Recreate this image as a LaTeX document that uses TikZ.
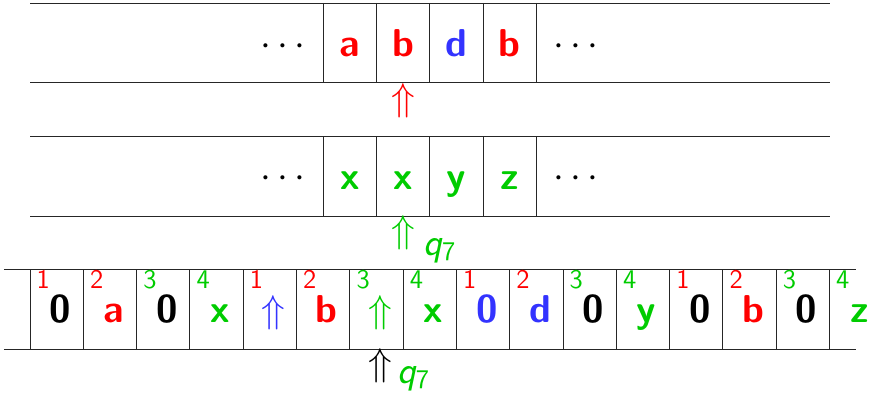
\documentclass[tikz,border=0pt]{standalone}
\definecolor{symred}{RGB}{255,0,0}
\definecolor{symgreen}{RGB}{0,204,0}
\definecolor{symblue}{RGB}{51,51,255}

\begin{document}
\begin{tikzpicture}[
    tape/.style={line width=0.5pt, black!85},
    letter/.style={font=\sffamily\bfseries\huge, anchor=base, inner sep=0pt},
    digit/.style={font=\sffamily\bfseries\huge, anchor=base, inner sep=0pt},
    arrowsym/.style={font=\huge, anchor=base, inner sep=0pt},
    index/.style={font=\sffamily\Large, anchor=base, inner sep=0pt},
    dots/.style={font=\huge, inner sep=0pt},
    head/.style={font=\huge, inner sep=0pt},
    state/.style={font=\sffamily\huge, anchor=base west, inner sep=0pt, symgreen}
]
    \useasboundingbox (-0.563,0.056) rectangle (15.76,-7.41);

    % Tape 1
    \draw[tape] (0,0) -- (15,0) (0,-1.5) -- (15,-1.5);
    \foreach \x in {5.5,6.5,...,9.5} \draw[tape] (\x,0) -- (\x,-1.5);
    \node[dots] (dotsAL) at (4.75,-0.83) {$\cdots$};
    \node[dots] (dotsAR) at (10.24,-0.83) {$\cdots$};
    \node[letter, symred] (a1) at (6,-1) {a};
    \node[letter, symred] (a2) at (7,-1) {b};
    \node[letter, symblue] (a3) at (8,-1) {d};
    \node[letter, symred] (a4) at (9,-1) {b};
    \node[head, symred] (headA) at (7,-1.84) {$\Uparrow$};

    % Tape 2
    \draw[tape] (0,-2.5) -- (15,-2.5) (0,-4) -- (15,-4);
    \foreach \x in {5.5,6.5,...,9.5} \draw[tape] (\x,-2.5) -- (\x,-4);
    \node[dots] (dotsBL) at (4.75,-3.3) {$\cdots$};
    \node[dots] (dotsBR) at (10.24,-3.3) {$\cdots$};
    \node[letter, symgreen] (b1) at (6,-3.5) {x};
    \node[letter, symgreen] (b2) at (7,-3.5) {x};
    \node[letter, symgreen] (b3) at (8,-3.5) {y};
    \node[letter, symgreen] (b4) at (9,-3.5) {z};
    \node[head, symgreen] (headB) at (7,-4.32) {$\Uparrow$};
    \node[state] (stateB) at (7.37,-4.73) {\slshape q\textsubscript{\upshape 7}};

    % Single tape with tracks
    \draw[tape] (-0.49,-5) -- (15.5,-5) (-0.49,-6.5) -- (15.5,-6.5);
    \foreach \x in {0,...,15} \draw[tape] (\x,-5) -- (\x,-6.5);
    \foreach \k/\i/\ic/\st/\sc/\s in {
        0/1/symred/digit/black/0, 1/2/symred/letter/symred/a,
        2/3/symgreen/digit/black/0, 3/4/symgreen/letter/symgreen/x,
        4/1/symred/arrowsym/symblue/$\Uparrow$, 5/2/symred/letter/symred/b,
        6/3/symgreen/arrowsym/symgreen/$\Uparrow$, 7/4/symgreen/letter/symgreen/x,
        8/1/symred/digit/symblue/0, 9/2/symred/letter/symblue/d,
        10/3/symgreen/digit/black/0, 11/4/symgreen/letter/symgreen/y,
        12/1/symred/digit/black/0, 13/2/symred/letter/symred/b,
        14/3/symgreen/digit/black/0, 15/4/symgreen/letter/symgreen/z} {
        \node[index, \ic] (i\k) at (\k+0.25,-5.35) {\i};
        \node[\st, \sc] (s\k) at (\k+0.57,-6) {\s};
    }
    \node[head] (headC) at (6.57,-6.81) {$\Uparrow$};
    \node[state] (stateC) at (6.88,-7.13) {\slshape q\textsubscript{\upshape 7}};

\end{tikzpicture}
\end{document}
